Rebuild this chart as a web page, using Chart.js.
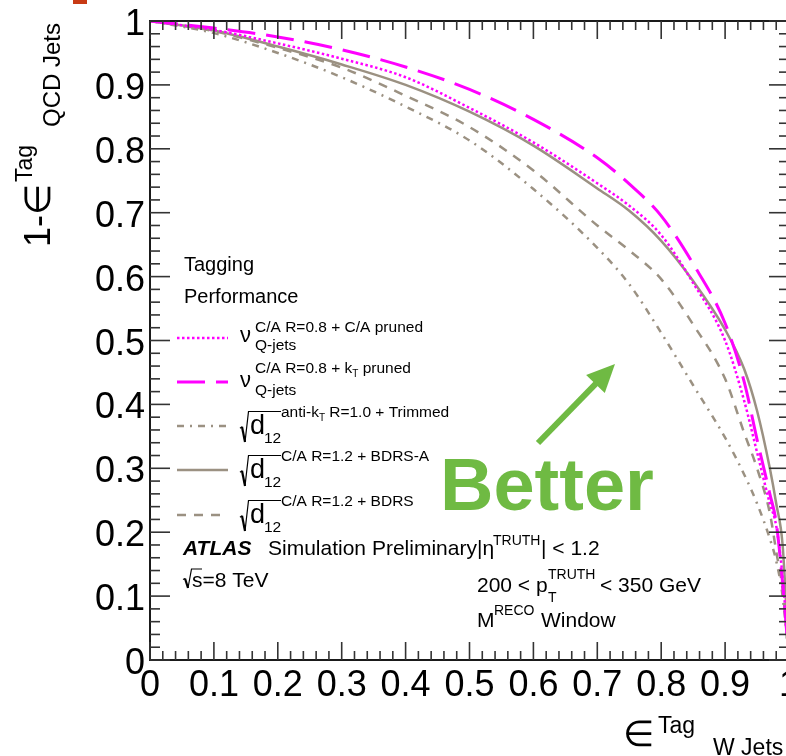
<!DOCTYPE html>
<html>
<head>
<meta charset="utf-8">
<script src="https://cdn.jsdelivr.net/npm/chart.js@4/dist/chart.umd.min.js"></script>
<style>
html, body { margin: 0; padding: 0; overflow: hidden; background: #fff; }
#wrap { position: absolute; left: 0; top: 0; width: 800px; height: 756px; }
</style>
</head>
<body>
<div id="wrap"><canvas id="roc" width="800" height="756"></canvas></div>
<script>
// W-jet tag efficiency (x) and QCD rejection, 1 - eff (y)
var effW = [0, 0.1, 0.2, 0.3, 0.4, 0.5, 0.6, 0.7, 0.75, 0.8, 0.85, 0.9, 0.93, 0.95, 0.97, 0.98, 0.99, 1.0];
var qjetsCApruned = [1, 0.986, 0.965, 0.941, 0.912, 0.864, 0.81, 0.746, 0.711, 0.665, 0.59, 0.5, 0.405, 0.325, 0.245, 0.21, 0.13, 0];
var qjetsKtPruned = [1, 0.989, 0.975, 0.955, 0.928, 0.893, 0.846, 0.786, 0.745, 0.695, 0.62, 0.527, 0.435, 0.345, 0.26, 0.215, 0.12, 0];
var d12Trimmed = [1, 0.981, 0.95, 0.912, 0.866, 0.813, 0.737, 0.645, 0.588, 0.512, 0.43, 0.348, 0.29, 0.245, 0.19, 0.155, 0.1, 0];
var d12BdrsA = [1, 0.985, 0.96, 0.932, 0.9, 0.858, 0.805, 0.738, 0.703, 0.656, 0.593, 0.517, 0.455, 0.39, 0.3, 0.245, 0.18, 0];
var d12Bdrs = [1, 0.984, 0.958, 0.927, 0.883, 0.834, 0.766, 0.68, 0.641, 0.596, 0.525, 0.44, 0.355, 0.3, 0.23, 0.17, 0.11, 0];
var tickValues = [0, 0.1, 0.2, 0.3, 0.4, 0.5, 0.6, 0.7, 0.8, 0.9, 1];

var MAGENTA = '#ff00ff';
var GREY = '#9b9182';
var FONT = '"Liberation Sans", Arial, Helvetica, sans-serif';

function pts(ys) {
    var out = [];
    for (var i = 0; i < effW.length; i++) out.push({ x: effW[i], y: ys[i] });
    return out;
}

function curve(label, ys, color, width, dash) {
    return {
        label: label,
        data: pts(ys),
        borderColor: color,
        borderWidth: width,
        borderDash: dash,
        pointRadius: 0,
        fill: false,
        cubicInterpolationMode: 'monotone'
    };
}

var datasets = [
    curve('Q-jets C/A pruned', qjetsCApruned, MAGENTA, 2.5, [2.5, 2.5]),
    curve('Q-jets kT pruned', qjetsKtPruned, MAGENTA, 3, [28, 11]),
    curve('d12 trimmed', d12Trimmed, GREY, 2.5, [7, 6, 2, 6]),
    curve('d12 BDRS-A', d12BdrsA, GREY, 2.5, []),
    curve('d12 BDRS', d12Bdrs, GREY, 2.5, [9, 8])
];

// small text helper, returns the width that was drawn
function txt(ctx, s, x, y, size, style, color, align) {
    ctx.font = (style || '') + ' ' + size + 'px ' + FONT;
    ctx.fillStyle = color || '#000';
    ctx.textAlign = align || 'left';
    ctx.textBaseline = 'alphabetic';
    ctx.fillText(s, x, y);
    return ctx.measureText(s).width;
}

function seg(ctx, x1, y1, x2, y2) {
    ctx.beginPath();
    ctx.moveTo(x1, y1);
    ctx.lineTo(x2, y2);
    ctx.stroke();
}

// radical sign with overline, used for sqrt(d12) and sqrt(s)
function radical(ctx, x, yTop, yBot, xEnd) {
    ctx.save();
    ctx.strokeStyle = '#000';
    ctx.lineWidth = 1.2;
    ctx.beginPath();
    ctx.moveTo(x, yBot - (yBot - yTop) * 0.45);
    ctx.lineTo(x + 2, yBot - (yBot - yTop) * 0.5);
    ctx.stroke();
    ctx.lineWidth = 2.2;
    ctx.beginPath();
    ctx.moveTo(x + 2, yBot - (yBot - yTop) * 0.5);
    ctx.lineTo(x + 5, yBot);
    ctx.stroke();
    ctx.lineWidth = 1.2;
    ctx.beginPath();
    ctx.moveTo(x + 5, yBot);
    ctx.lineTo(x + 8.5, yTop);
    ctx.lineTo(xEnd, yTop);
    ctx.stroke();
    ctx.restore();
}

function fmtTick(v) {
    if (Math.abs(v) < 1e-9) return '0';
    if (Math.abs(v - 1) < 1e-9) return '1';
    return v.toFixed(1);
}

// ROOT style frame: box with inward ticks on all four sides, plus labels
var framePlugin = {
    id: 'rootFrame',
    afterDatasetsDraw: function (chart) {
        var ctx = chart.ctx, a = chart.chartArea;
        var xs = chart.scales.x, ys = chart.scales.y;
        ctx.save();
        ctx.strokeStyle = '#1a1a1a';
        ctx.lineWidth = 2;
        ctx.strokeRect(a.left, a.top, a.right - a.left, a.bottom - a.top);
        ctx.strokeStyle = '#333';
        ctx.lineWidth = 1.6;
        for (var i = 0; i <= 50; i++) {
            var v = i / 50;
            var major = i % 5 === 0;
            var px = xs.getPixelForValue(v), py = ys.getPixelForValue(v);
            var lx = major ? 18 : 9, ly = major ? 20 : 10;
            seg(ctx, px, a.bottom, px, a.bottom - lx);
            seg(ctx, px, a.top, px, a.top + lx);
            seg(ctx, a.left, py, a.left + ly, py);
            seg(ctx, a.right, py, a.right - ly, py);
        }
        // tick labels
        for (var k = 0; k < tickValues.length; k++) {
            var t = tickValues[k];
            txt(ctx, fmtTick(t), xs.getPixelForValue(t), 696, 36, '', '#000', 'center');
            txt(ctx, fmtTick(t), a.left - 5, ys.getPixelForValue(t) + 14, 36, '', '#000', 'right');
        }
        ctx.restore();
    },
    afterDraw: function (chart) {
        var ctx = chart.ctx;
        ctx.save();

        // red corner mark
        ctx.fillStyle = '#c83a14';
        ctx.fillRect(73, 0, 14, 4);

        // axis titles
        ctx.save();
        ctx.translate(50, 247);
        ctx.rotate(-Math.PI / 2);
        txt(ctx, '1-\u2208', 0, 0, 36);
        ctx.restore();
        ctx.save();
        ctx.translate(32, 182);
        ctx.rotate(-Math.PI / 2);
        txt(ctx, 'Tag', 0, 0, 23);
        ctx.restore();
        ctx.save();
        ctx.translate(60, 127);
        ctx.rotate(-Math.PI / 2);
        txt(ctx, 'QCD Jets', 0, 0, 24);
        ctx.restore();

        txt(ctx, '\u2208', 623, 746, 36);
        txt(ctx, 'Tag', 658, 733, 23);
        txt(ctx, 'W Jets', 713, 755, 23);

        // legend
        txt(ctx, 'Tagging', 184, 271, 20);
        txt(ctx, 'Performance', 184, 303, 20);

        var lx1 = 177, lx2 = 228;
        var rows = [338, 382, 426, 470, 515];
        for (var i = 0; i < datasets.length; i++) {
            var ds = datasets[i];
            ctx.save();
            ctx.strokeStyle = ds.borderColor;
            ctx.lineWidth = ds.borderWidth;
            ctx.setLineDash(ds.borderDash);
            seg(ctx, lx1, rows[i], lx2, rows[i]);
            ctx.restore();
        }

        // nu_Q-jets entries
        var sz = 15.5, w;
        txt(ctx, '\u03bd', 240, 342, 22);
        txt(ctx, 'C/A R=0.8 + C/A pruned', 255, 332, sz);
        txt(ctx, 'Q-jets', 255, 350, sz);

        txt(ctx, '\u03bd', 240, 387, 22);
        w = txt(ctx, 'C/A R=0.8 + k', 255, 373, sz);
        txt(ctx, 'T', 255 + w, 377, 10);
        txt(ctx, ' pruned', 255 + w + 6, 373, sz);
        txt(ctx, 'Q-jets', 255, 395, sz);

        // sqrt(d12) entries
        var supTexts = [
            ['anti-k', 'T', ' R=1.0 + Trimmed'],
            ['C/A R=1.2 + BDRS-A'],
            ['C/A R=1.2 + BDRS']
        ];
        for (var j = 0; j < 3; j++) {
            var y0 = rows[j + 2];
            radical(ctx, 240, y0 - 14.5, y0 + 16, 281);
            txt(ctx, 'd', 250, y0 + 8, 27);
            txt(ctx, '12', 264, y0 + 16.5, sz);
            var parts = supTexts[j];
            w = txt(ctx, parts[0], 281, y0 - 9, sz);
            if (parts.length > 1) {
                txt(ctx, parts[1], 281 + w, y0 - 5, 10);
                txt(ctx, parts[2], 281 + w + 6, y0 - 9, sz);
            }
        }

        // ATLAS label and selection
        txt(ctx, 'ATLAS', 183, 555, 21, 'italic bold');
        txt(ctx, 'Simulation Preliminary', 268, 555, 21);
        txt(ctx, '|\u03b7', 477, 555, 21);
        txt(ctx, 'TRUTH', 493, 545, 14);
        txt(ctx, '| < 1.2', 541, 555, 21);

        radical(ctx, 183, 569, 588, 202);
        txt(ctx, 's=8 TeV', 192, 587, 21);

        txt(ctx, '200 < p', 477, 592, 21);
        txt(ctx, 'TRUTH', 548, 579, 14);
        txt(ctx, 'T', 548, 602, 14);
        txt(ctx, '< 350 GeV', 600, 592, 21);
        txt(ctx, 'M', 477, 627, 21);
        txt(ctx, 'RECO', 494, 615, 14);
        txt(ctx, 'Window', 541, 627, 21);

        // "Better" arrow
        var green = '#6fba43';
        var tip = { x: 615, y: 364 }, tail = { x: 538, y: 443 };
        var dx = tip.x - tail.x, dy = tip.y - tail.y, len = Math.sqrt(dx * dx + dy * dy);
        var ux = dx / len, uy = dy / len;
        var bx = tip.x - 28 * ux, by = tip.y - 28 * uy;
        ctx.strokeStyle = green;
        ctx.lineWidth = 6;
        seg(ctx, tail.x, tail.y, bx + 2 * ux, by + 2 * uy);
        ctx.fillStyle = green;
        ctx.beginPath();
        ctx.moveTo(tip.x, tip.y);
        ctx.lineTo(bx - 13 * uy, by + 13 * ux);
        ctx.lineTo(bx + 13 * uy, by - 13 * ux);
        ctx.closePath();
        ctx.fill();
        txt(ctx, 'Better', 440, 510, 74, 'bold', green);

        ctx.restore();
    }
};

new Chart(document.getElementById('roc'), {
    type: 'line',
    data: { datasets: datasets },
    options: {
        responsive: false,
        animation: false,
        devicePixelRatio: 1,
        layout: { padding: { top: 21, right: 11, left: 0, bottom: 0 } },
        plugins: { legend: { display: false }, tooltip: { enabled: false } },
        scales: {
            x: {
                type: 'linear',
                min: 0, max: 1,
                grid: { display: false },
                border: { display: false },
                ticks: { display: false },
                afterFit: function (s) { s.height = 96; }
            },
            y: {
                type: 'linear',
                min: 0, max: 1,
                grid: { display: false },
                border: { display: false },
                ticks: { display: false },
                afterFit: function (s) { s.width = 150; }
            }
        }
    },
    plugins: [framePlugin]
});
</script>
</body>
</html>
